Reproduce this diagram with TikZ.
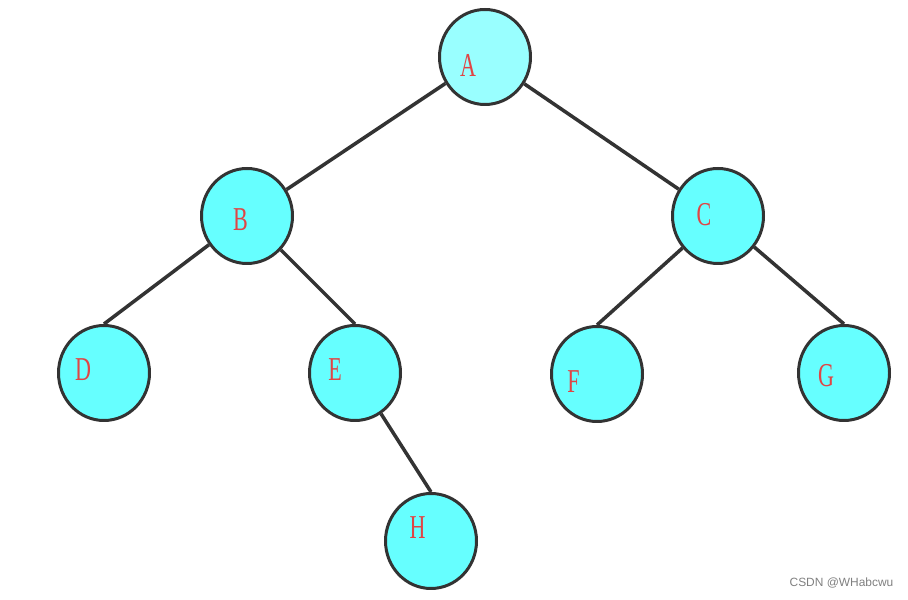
\documentclass[tikz,border=0pt]{standalone}
\usepackage{fontspec}
\setmainfont{Liberation Serif}
\newfontfamily\letterfont[FakeStretch=0.66]{Liberation Serif}
\newfontfamily\markfont{Liberation Sans}
\usepackage{tikz}
\usetikzlibrary{shapes.geometric,positioning}

\definecolor{nodefill}{HTML}{66FFFF}
\definecolor{rootfill}{HTML}{99FFFF}
\definecolor{nodeline}{HTML}{333333}
\definecolor{letter}{HTML}{E04545}

\tikzset{
	treenode/.style={ellipse, draw=nodeline, line width=1.7pt, fill=nodefill,
		minimum width=1.82cm, minimum height=1.9cm, inner sep=0pt},
	rootnode/.style={treenode, fill=rootfill},
	lbl/.style={text=letter, font=\letterfont\fontsize{19}{19}\selectfont},
	edge/.style={draw=nodeline, line width=2pt}
}

\begin{document}
\begin{tikzpicture}
	\useasboundingbox (0,0) rectangle (18.16,11.98);
	
	% draw nodes
	\node[rootnode, label={[lbl, xshift=-0.34cm, yshift=-0.16cm]center:A}] (A) at (9.70,10.84) {};
	\node[treenode, label={[lbl, xshift=-0.13cm, yshift=-0.07cm]center:B}] (B) at (4.94,7.66) {};
	\node[treenode, label={[lbl, xshift=-0.28cm, yshift=0.02cm]center:C}] (C) at (14.36,7.66) {};
	\node[treenode, label={[lbl, xshift=-0.42cm, yshift=0.06cm]center:D}] (D) at (2.08,4.52) {};
	\node[treenode, label={[lbl, xshift=-0.40cm, yshift=0.06cm]center:E}] (E) at (7.10,4.52) {};
	\node[treenode, label={[lbl, xshift=-0.47cm, yshift=-0.15cm]center:F}] (F) at (11.94,4.50) {};
	\node[treenode, label={[lbl, xshift=-0.36cm, yshift=-0.06cm]center:G}] (G) at (16.88,4.52) {};
	\node[treenode, label={[lbl, xshift=-0.27cm, yshift=0.26cm]center:H}] (H) at (8.62,1.16) {};
	
	% draw connectors
	\foreach \p/\c in {A/B, A/C}
	\draw[edge] (\p) -- (\c);
	\foreach \p/\c in {B/D, B/E, C/F, C/G, E/H}
	\draw[edge] (\p) -- (\c.north);
	
	% watermark
	\node[text=gray, font=\markfont\fontsize{6.8}{6.8}\selectfont] (mark) at (16.83,0.32) {CSDN @WHabcwu};
	
\end{tikzpicture}
\end{document}
